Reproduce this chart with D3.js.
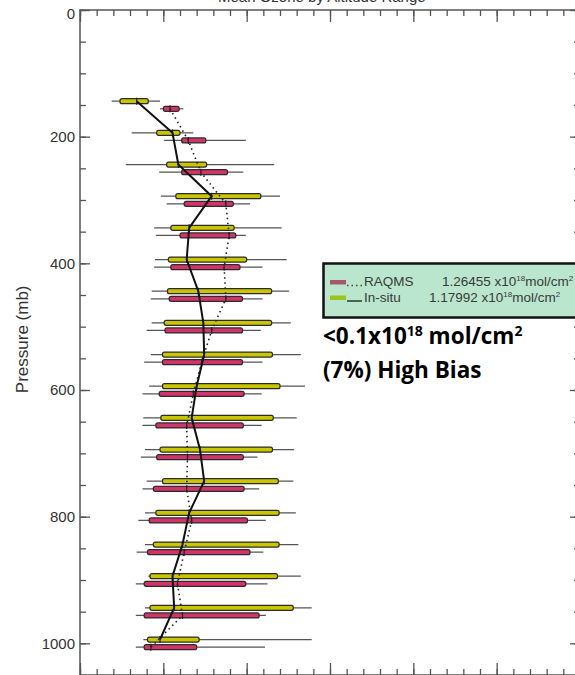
<!DOCTYPE html>
<html>
<head>
<meta charset="utf-8">
<script src="https://cdn.jsdelivr.net/npm/d3@7"></script>
<style>
  body { margin: 0; background: #fff; }
  svg { display: block; }
</style>
</head>
<body>
<svg id="chart" width="575" height="675"></svg>
<script>
// Pressure levels (mb), one in-situ / RAQMS box pair per level.
const levels = [150, 200, 250, 300, 350, 400, 450, 500, 550, 600, 650, 700, 750, 800, 850, 900, 950, 1000];

// In-situ box statistics (x units, 10 per major tick).
const insituMin = [3.8, 6.2, 5.5, 9.7, 8.9, 9.0, 8.6, 8.6, 8.5, 8.3, 7.6, 7.8, 8.0, 7.8, 7.8, 8.2, 7.8, 7.6];
const insituQ1 = [4.8, 9.2, 10.4, 11.5, 10.9, 10.6, 10.5, 10.1, 9.9, 9.9, 9.7, 9.6, 9.9, 9.1, 8.8, 8.4, 8.4, 8.1];
const insituMed = [6.8, 11.1, 11.8, 15.8, 13.1, 12.8, 14.2, 14.8, 14.9, 14.0, 13.4, 14.4, 14.9, 13.1, 12.3, 11.1, 11.3, 9.6];
const insituQ3 = [8.2, 12.0, 15.2, 21.7, 18.5, 20.0, 23.0, 23.0, 23.1, 24.0, 23.2, 23.1, 23.8, 23.9, 23.9, 23.7, 25.6, 14.3];
const insituMax = [9.6, 13.6, 23.3, 24.0, 24.2, 24.8, 25.1, 25.3, 26.5, 27.0, 26.0, 25.7, 25.6, 25.9, 26.2, 26.5, 27.8, 27.8];

// RAQMS box statistics.
const raqmsMin = [9.6, 10.1, 9.5, 10.4, 9.1, 8.9, 8.5, 8.0, 7.7, 7.5, 7.5, 7.3, 7.5, 7.0, 6.8, 6.7, 6.7, 6.7];
const raqmsQ1 = [10.0, 12.2, 12.2, 12.5, 12.0, 10.9, 10.7, 10.2, 9.9, 9.5, 9.1, 9.2, 8.8, 8.3, 8.1, 7.7, 7.7, 7.7];
const raqmsMed = [10.8, 13.0, 14.5, 17.5, 17.9, 17.3, 17.5, 15.8, 14.6, 13.6, 12.8, 12.9, 12.8, 13.4, 12.5, 11.7, 12.3, 8.5];
const raqmsQ3 = [11.9, 15.1, 17.7, 18.4, 18.7, 19.2, 19.5, 19.5, 19.5, 19.7, 19.6, 19.6, 19.7, 20.1, 20.4, 19.9, 21.5, 14.0];
const raqmsMax = [12.4, 19.9, 19.6, 20.4, 19.9, 21.9, 21.9, 21.7, 21.9, 21.8, 21.8, 21.3, 21.5, 22.3, 22.0, 22.5, 22.3, 22.2];

// Tick values.
const yMajorTicks = [0, 200, 400, 600, 800, 1000];
const yMinorTicks = d3.range(0, 1051, 50);
const xMajorTicks = [0, 10, 20, 30, 40, 50, 60];
const xMinorTicks = d3.range(0, 61, 2);

// Legend text.
const legendNames = ['RAQMS', 'In-situ'];
const legendValues = ['1.26455', '1.17992'];

const AXIS_COLOR = '#555';
const INSITU_FILL = '#c9c600';
const RAQMS_FILL = '#d2346a';
const BOX_H = 5;
const PAIR_OFFSET = 3.8;

const svg = d3.select('#chart');

const x = d3.scaleLinear().domain([0, 60]).range([80, 580]);
const y = d3.scaleLinear().domain([0, 1050]).range([10, 675]);

// Title (only the descenders show above the frame, as in the original crop).
svg.append('text')
  .attr('x', 218)
  .attr('y', 1.5)
  .attr('font-family', 'Liberation Sans, Arial, sans-serif')
  .attr('font-size', 15)
  .attr('fill', '#333')
  .text('Mean Ozone by Altitude Range');

// Axes: minor and major ticks, all pointing inwards.
function drawAxis(axisFn, scale, ticks, size, transform, withLabels) {
  const g = svg.append('g')
    .attr('transform', transform)
    .call(axisFn(scale)
      .tickValues(ticks)
      .tickSizeInner(-size)
      .tickSizeOuter(0)
      .tickPadding(5)
      .tickFormat(withLabels ? d3.format('d') : () => ''));
  g.select('.domain').remove();
  g.selectAll('line').attr('stroke', AXIS_COLOR).attr('stroke-width', 1.3);
  g.selectAll('text')
    .attr('font-family', 'Liberation Sans, Arial, sans-serif')
    .attr('font-size', 15)
    .attr('fill', '#333');
  return g;
}

drawAxis(d3.axisLeft, y, yMinorTicks, 6, 'translate(80,0)', false);
const yLabels = drawAxis(d3.axisLeft, y, yMajorTicks, 10, 'translate(80,0)', true);
// The top "0" label sits a little below its tick.
yLabels.selectAll('.tick text').filter((d) => d === 0).attr('y', 4);
drawAxis(d3.axisRight, y, yMinorTicks, 6, 'translate(580,0)', false);
drawAxis(d3.axisRight, y, yMajorTicks, 10, 'translate(580,0)', false);
drawAxis(d3.axisTop, x, xMinorTicks, 6, 'translate(0,10)', false);
drawAxis(d3.axisTop, x, xMajorTicks, 12, 'translate(0,10)', false);
drawAxis(d3.axisBottom, x, xMinorTicks, 6, 'translate(0,675)', false);
drawAxis(d3.axisBottom, x, xMajorTicks, 12, 'translate(0,675)', false);

svg.append('rect')
  .attr('x', x(0))
  .attr('y', y(0))
  .attr('width', x(60) - x(0))
  .attr('height', y(1050) - y(0))
  .attr('fill', 'none')
  .attr('stroke', AXIS_COLOR)
  .attr('stroke-width', 1.5);

// Y axis title.
svg.append('text')
  .attr('transform', `translate(28,${y(520)}) rotate(-90)`)
  .attr('text-anchor', 'middle')
  .attr('font-family', 'Liberation Sans, Arial, sans-serif')
  .attr('font-size', 17)
  .attr('fill', '#333')
  .text('Pressure (mb)');

// Box rows.
const insitu = levels.map((p, i) => ({
  p, yc: y(p) - PAIR_OFFSET,
  min: insituMin[i], q1: insituQ1[i], med: insituMed[i], q3: insituQ3[i], max: insituMax[i],
}));
const raqms = levels.map((p, i) => ({
  p, yc: y(p) + PAIR_OFFSET,
  min: raqmsMin[i], q1: raqmsQ1[i], med: raqmsMed[i], q3: raqmsQ3[i], max: raqmsMax[i],
}));

function drawBoxes(rows, fill, id) {
  const g = svg.append('g').attr('id', id);
  g.selectAll('line.whisker')
    .data(rows)
    .join('line')
    .attr('class', 'whisker')
    .attr('x1', (d) => x(d.min))
    .attr('x2', (d) => x(d.max))
    .attr('y1', (d) => d.yc)
    .attr('y2', (d) => d.yc)
    .attr('stroke', '#555')
    .attr('stroke-width', 1.2);
  g.selectAll('rect')
    .data(rows)
    .join('rect')
    .attr('x', (d) => x(d.q1))
    .attr('y', (d) => d.yc - BOX_H / 2)
    .attr('width', (d) => x(d.q3) - x(d.q1))
    .attr('height', BOX_H)
    .attr('rx', 2)
    .attr('fill', fill)
    .attr('stroke', '#2b2b2b')
    .attr('stroke-width', 1.2);
  g.selectAll('line.median')
    .data(rows)
    .join('line')
    .attr('class', 'median')
    .attr('x1', (d) => x(d.med))
    .attr('x2', (d) => x(d.med))
    .attr('y1', (d) => d.yc - BOX_H / 2 - 1)
    .attr('y2', (d) => d.yc + BOX_H / 2 + 1)
    .attr('stroke', '#222')
    .attr('stroke-width', 1.2);
}

drawBoxes(insitu, INSITU_FILL, 'insitu-boxes');
drawBoxes(raqms, RAQMS_FILL, 'raqms-boxes');

// Median profiles: solid for in-situ, dotted for RAQMS.
const profile = d3.line().x((d) => x(d.med)).y((d) => d.yc);

svg.append('path')
  .attr('d', profile(raqms))
  .attr('fill', 'none')
  .attr('stroke', '#222')
  .attr('stroke-width', 1.6)
  .attr('stroke-dasharray', '1.5,3.5');

svg.append('path')
  .attr('d', profile(insitu))
  .attr('fill', 'none')
  .attr('stroke', '#111')
  .attr('stroke-width', 2);

// Legend box.
const legend = svg.append('g').attr('id', 'legend');
legend.append('rect')
  .attr('x', 323.5)
  .attr('y', 263.5)
  .attr('width', 270)
  .attr('height', 54)
  .attr('fill', '#b9e6cc')
  .attr('stroke', '#111')
  .attr('stroke-width', 2.5);

const rowBase = [286, 301.5];
const swatchFill = ['#a8566a', '#9cc41e'];
const valueX = [442, 429];

legendNames.forEach((name, i) => {
  legend.append('rect')
    .attr('x', 330)
    .attr('y', rowBase[i] - 6)
    .attr('width', 16)
    .attr('height', 4.5)
    .attr('fill', swatchFill[i]);
  legend.append('line')
    .attr('x1', 347)
    .attr('x2', 362)
    .attr('y1', rowBase[i] - 0.5)
    .attr('y2', rowBase[i] - 0.5)
    .attr('stroke', i === 0 ? '#444' : '#1f3b33')
    .attr('stroke-width', 1.5)
    .attr('stroke-dasharray', i === 0 ? '1.5,3' : null);
  legend.append('text')
    .attr('x', 364)
    .attr('y', rowBase[i])
    .attr('font-family', 'Liberation Sans, Arial, sans-serif')
    .attr('font-size', 13.5)
    .attr('fill', '#3a3a3a')
    .text(name);
  const t = legend.append('text')
    .attr('x', valueX[i])
    .attr('y', rowBase[i])
    .attr('font-family', 'Liberation Sans, Arial, sans-serif')
    .attr('font-size', 13.5)
    .attr('fill', '#3a3a3a');
  t.append('tspan').text(`${legendValues[i]} x10`);
  t.append('tspan').attr('dy', -5).attr('font-size', 8).text('18');
  t.append('tspan').attr('dy', 5).text('mol/cm');
  t.append('tspan').attr('dy', -5).attr('font-size', 8).text('2');
});

// Bias annotation.
const note = svg.append('g')
  .attr('font-family', 'Open Sans, sans-serif')
  .attr('font-weight', 'bold')
  .attr('font-size', 22.5)
  .attr('fill', '#000');
const line1 = note.append('text').attr('x', 323).attr('y', 344);
line1.append('tspan').text('<0.1x10');
line1.append('tspan').attr('dy', -8).attr('font-size', 14).text('18');
line1.append('tspan').attr('dy', 8).text(' mol/cm');
line1.append('tspan').attr('dy', -8).attr('font-size', 14).text('2');
note.append('text').attr('x', 323).attr('y', 378).text('(7%) High Bias');
</script>
</body>
</html>
